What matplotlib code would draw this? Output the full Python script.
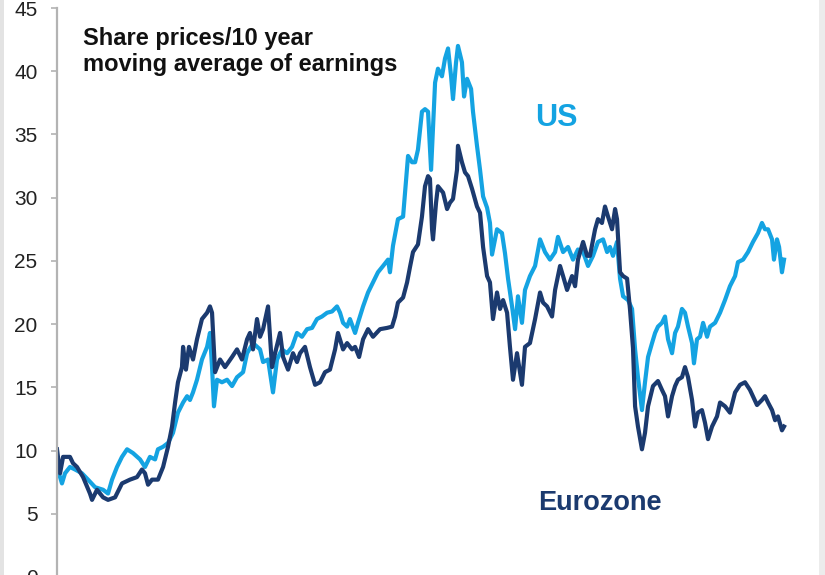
import matplotlib
matplotlib.use("Agg")
import matplotlib.pyplot as plt
from matplotlib.patches import Rectangle

plt.rcParams["font.family"] = ["Liberation Sans", "DejaVu Sans"]

# Eurozone: share prices / 10y moving average of earnings
ez_years = [1973.00, 1973.19, 1973.38, 1973.81, 1974.00, 1974.25, 1974.63, 1975.06,
            1975.19, 1975.50, 1975.88, 1976.19, 1976.63, 1977.06, 1977.56, 1978.00,
            1978.31, 1978.50, 1978.69, 1978.94, 1979.31, 1979.63, 1979.94, 1980.19,
            1980.38, 1980.56, 1980.81, 1980.88, 1981.06, 1981.25, 1981.50, 1981.75,
            1982.06, 1982.38, 1982.56, 1982.69, 1982.88, 1983.19, 1983.50, 1983.94,
            1984.25, 1984.56, 1984.88, 1985.06, 1985.25, 1985.50, 1985.69, 1985.88,
            1986.19, 1986.44, 1986.63, 1986.94, 1987.13, 1987.44, 1987.75, 1988.00,
            1988.19, 1988.50, 1988.81, 1989.13, 1989.44, 1989.75, 1990.06, 1990.38,
            1990.56, 1990.88, 1991.13, 1991.44, 1991.63, 1991.88, 1992.13, 1992.44,
            1992.75, 1993.19, 1993.63, 1993.94, 1994.13, 1994.31, 1994.63, 1994.88,
            1995.06, 1995.25, 1995.56, 1995.81, 1996.00, 1996.19, 1996.31, 1996.44,
            1996.50, 1996.69, 1996.81, 1997.13, 1997.38, 1997.56, 1997.75, 1998.00,
            1998.06, 1998.31, 1998.50, 1998.69, 1998.94, 1999.25, 1999.44, 1999.63,
            1999.88, 2000.06, 2000.25, 2000.50, 2000.69, 2000.88, 2001.13, 2001.31,
            2001.50, 2001.75, 2002.06, 2002.25, 2002.56, 2002.88, 2003.19, 2003.38,
            2003.63, 2003.94, 2004.13, 2004.44, 2004.63, 2004.88, 2005.19, 2005.38,
            2005.56, 2005.88, 2006.13, 2006.31, 2006.63, 2006.81, 2007.06, 2007.25,
            2007.44, 2007.69, 2007.88, 2008.00, 2008.19, 2008.38, 2008.63, 2008.81,
            2009.00, 2009.13, 2009.31, 2009.56, 2009.75, 2009.94, 2010.25, 2010.56,
            2010.81, 2011.00, 2011.19, 2011.44, 2011.63, 2011.81, 2012.06, 2012.25,
            2012.44, 2012.69, 2012.88, 2013.06, 2013.31, 2013.50, 2013.69, 2013.94,
            2014.25, 2014.44, 2014.75, 2015.06, 2015.38, 2015.69, 2016.00, 2016.31,
            2016.75, 2017.06, 2017.25, 2017.44, 2017.69, 2017.88, 2018.06, 2018.31,
            2018.44]
ez_values = [10.1, 8.2, 9.5, 9.5, 9.0, 8.7, 7.9, 6.6,
             6.1, 6.9, 6.3, 6.1, 6.3, 7.4, 7.7, 7.9,
             8.5, 8.2, 7.3, 7.7, 7.7, 8.7, 10.3, 11.9,
             13.8, 15.4, 16.6, 18.2, 16.4, 18.2, 17.2, 18.8,
             20.4, 20.9, 21.4, 20.9, 16.2, 17.2, 16.6, 17.4,
             18.0, 17.2, 18.8, 19.3, 18.0, 20.4, 19.0, 19.6,
             21.4, 16.6, 17.7, 19.3, 17.4, 16.4, 17.7, 17.0,
             17.7, 18.2, 16.6, 15.2, 15.4, 16.2, 16.4, 18.0,
             19.3, 18.0, 18.5, 18.0, 18.2, 17.4, 18.8, 19.6,
             19.0, 19.6, 19.7, 19.8, 20.6, 21.7, 22.1, 23.3,
             24.5, 25.7, 26.3, 28.5, 30.9, 31.7, 31.5, 27.5,
             26.7, 29.6, 30.9, 30.4, 29.1, 29.6, 29.9, 32.2,
             34.1, 32.8, 32.0, 31.7, 30.7, 29.3, 28.8, 26.1,
             23.8, 23.3, 20.4, 22.5, 21.2, 21.9, 20.9, 18.2,
             15.6, 17.7, 15.2, 18.2, 18.5, 20.4, 22.5, 21.7,
             21.4, 20.6, 22.7, 24.6, 23.8, 22.7, 23.8, 23.0,
             25.1, 26.5, 25.4, 25.4, 27.5, 28.3, 28.0, 29.3,
             28.5, 27.5, 29.1, 28.3, 24.1, 23.8, 23.6, 21.2,
             18.1, 13.5, 11.9, 10.1, 11.4, 13.5, 15.1, 15.5,
             14.8, 14.3, 12.7, 14.3, 15.1, 15.6, 15.8, 16.6,
             15.8, 14.0, 11.9, 13.0, 13.2, 12.2, 10.9, 11.9,
             12.7, 13.8, 13.5, 13.0, 14.6, 15.2, 15.4, 14.8,
             13.6, 14.0, 14.3, 13.8, 13.2, 12.4, 12.7, 11.6,
             11.9]

# US: share prices / 10y moving average of earnings
us_years = [1973.00, 1973.31, 1973.50, 1973.81, 1974.13, 1974.56, 1974.94, 1975.38,
            1975.88, 1976.19, 1976.44, 1976.75, 1977.06, 1977.38, 1977.75, 1978.19,
            1978.50, 1978.81, 1979.13, 1979.31, 1979.63, 1979.94, 1980.25, 1980.56,
            1980.88, 1981.13, 1981.31, 1981.50, 1981.75, 1982.06, 1982.38, 1982.56,
            1982.69, 1982.81, 1983.00, 1983.31, 1983.63, 1983.94, 1984.25, 1984.63,
            1984.88, 1985.25, 1985.69, 1985.88, 1986.19, 1986.44, 1986.50, 1986.75,
            1987.06, 1987.38, 1987.69, 1988.00, 1988.31, 1988.63, 1988.94, 1989.25,
            1989.56, 1989.88, 1990.19, 1990.50, 1990.69, 1990.88, 1991.13, 1991.31,
            1991.63, 1991.81, 1992.13, 1992.44, 1992.75, 1993.06, 1993.38, 1993.69,
            1993.81, 1994.00, 1994.31, 1994.63, 1994.94, 1995.19, 1995.38, 1995.56,
            1995.81, 1996.00, 1996.19, 1996.38, 1996.63, 1996.81, 1997.06, 1997.25,
            1997.44, 1997.63, 1997.75, 1997.94, 1998.06, 1998.31, 1998.44, 1998.63,
            1998.88, 1999.00, 1999.25, 1999.44, 1999.63, 1999.88, 2000.06, 2000.19,
            2000.50, 2000.81, 2001.00, 2001.19, 2001.44, 2001.63, 2001.81, 2002.06,
            2002.25, 2002.56, 2002.88, 2003.19, 2003.50, 2003.81, 2004.13, 2004.31,
            2004.63, 2004.94, 2005.25, 2005.56, 2005.88, 2006.19, 2006.50, 2006.81,
            2007.13, 2007.38, 2007.56, 2007.75, 2008.00, 2008.19, 2008.38, 2008.69,
            2008.94, 2009.13, 2009.31, 2009.56, 2009.75, 2009.94, 2010.19, 2010.38,
            2010.56, 2010.81, 2011.00, 2011.19, 2011.44, 2011.63, 2011.81, 2012.06,
            2012.25, 2012.44, 2012.69, 2012.81, 2013.00, 2013.19, 2013.38, 2013.63,
            2013.81, 2014.13, 2014.44, 2014.75, 2015.06, 2015.38, 2015.56, 2015.88,
            2016.19, 2016.50, 2016.81, 2017.06, 2017.25, 2017.44, 2017.69, 2017.81,
            2018.00, 2018.13, 2018.31, 2018.44]
us_values = [8.7, 7.4, 8.2, 8.7, 8.5, 8.2, 7.7, 7.1,
             6.9, 6.6, 7.7, 8.7, 9.5, 10.1, 9.8, 9.3,
             8.7, 9.5, 9.3, 10.1, 10.3, 10.6, 11.4, 13.0,
             13.8, 14.3, 14.0, 14.6, 15.6, 17.2, 18.2, 19.3,
             16.6, 13.5, 15.6, 15.4, 15.6, 15.1, 15.8, 16.2,
             17.7, 18.5, 18.0, 17.0, 17.2, 15.1, 14.6, 17.2,
             18.0, 17.7, 18.2, 19.3, 19.0, 19.6, 19.7, 20.4,
             20.6, 20.9, 21.0, 21.4, 20.9, 20.1, 19.8, 20.4,
             19.3, 20.1, 21.4, 22.5, 23.3, 24.1, 24.6, 25.1,
             24.1, 26.2, 28.3, 28.5, 33.3, 32.8, 32.8, 33.8,
             36.8, 37.0, 36.8, 32.2, 39.1, 40.2, 39.6, 41.0,
             41.8, 39.6, 37.8, 40.7, 42.0, 40.7, 38.0, 39.4,
             38.6, 36.8, 34.1, 32.2, 30.1, 29.2, 28.0, 25.5,
             27.5, 27.2, 25.6, 23.6, 21.4, 19.6, 22.2, 20.1,
             22.7, 23.8, 24.6, 26.7, 25.7, 25.1, 25.7, 26.9,
             25.7, 26.1, 25.1, 25.9, 25.7, 24.6, 25.4, 26.5,
             26.7, 25.7, 26.1, 25.4, 26.5, 23.6, 22.2, 21.9,
             21.2, 18.0, 15.8, 13.2, 15.4, 17.4, 18.5, 19.3,
             19.8, 20.1, 20.6, 18.8, 17.7, 19.3, 19.8, 21.2,
             20.9, 19.8, 18.5, 16.9, 18.8, 19.0, 20.1, 19.0,
             19.8, 20.1, 20.9, 21.9, 23.0, 23.8, 24.9, 25.1,
             25.7, 26.5, 27.2, 28.0, 27.5, 27.5, 26.7, 25.1,
             26.7, 26.1, 24.1, 25.1]

y_ticks = [0, 5, 10, 15, 20, 25, 30, 35, 40, 45]

US_COLOR = "#14a3e2"
EZ_COLOR = "#1b3a6f"
AXIS_GREY = "#b3b3b3"

fig = plt.figure(figsize=(8.25, 5.75), dpi=100)
ax = fig.add_axes([57 / 825, -2 / 575, 743 / 825, 569 / 575])

ax.plot(us_years, us_values, color=US_COLOR, lw=3.0, solid_joinstyle="round")
ax.plot(ez_years, ez_values, color=EZ_COLOR, lw=3.0, solid_joinstyle="round")

ax.set_xlim(1973, 1973 + 743 / 16)
ax.set_ylim(0, 45)
ax.set_yticks(y_ticks)
ax.set_yticklabels([str(t) for t in y_ticks])
ax.tick_params(axis="y", length=4, width=1.2, color=AXIS_GREY, pad=10,
               labelsize=15, labelcolor="#222222")
ax.set_xticks([])
for side in ["top", "right", "bottom"]:
    ax.spines[side].set_visible(False)
ax.spines["left"].set_color(AXIS_GREY)
ax.spines["left"].set_linewidth(1.6)
ax.patch.set_alpha(0)

fig.text(83 / 825, 1 - 27 / 575, "Share prices/10 year\nmoving average of earnings",
         fontsize=17, fontweight="bold", color="#111111", va="top", ha="left",
         linespacing=1.15)
ax.text(2002.88, 35.7, "US", fontsize=22, fontweight="bold", color=US_COLOR,
        ha="left", va="baseline")
ax.text(2003.06, 5.3, "Eurozone", fontsize=19.5, fontweight="bold", color=EZ_COLOR,
        ha="left", va="baseline")

# light grey slide frame at the left and right edges
fig.add_artist(Rectangle((0, 0), 4 / 825, 1, transform=fig.transFigure,
                         color="#e3e3e3", lw=0))
fig.add_artist(Rectangle((819 / 825, 0), 6 / 825, 1, transform=fig.transFigure,
                         color="#ececec", lw=0))

fig.savefig("out.png", dpi=100)
